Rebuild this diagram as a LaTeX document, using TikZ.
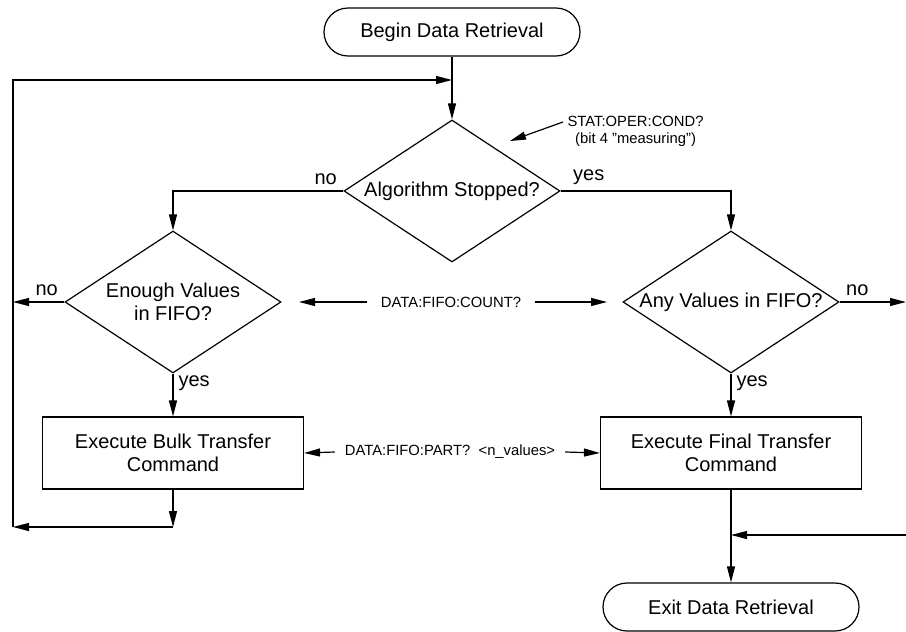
\documentclass[tikz,border=0pt]{standalone}
\usepackage{fontspec}
\setmainfont{Liberation Sans}
\usepackage{tikz}
\usetikzlibrary{arrows.meta,shapes.geometric}

\begin{document}
\begin{tikzpicture}[x=0.5pt, y=-0.5pt, line width=0.6pt,
    >={Triangle[length=8pt,width=4pt]},
    every node/.style={font=\fontsize{10}{11.5}\selectfont},
    terminal/.style={draw, rectangle, rounded corners=12pt, minimum width=128pt, minimum height=24pt},
    process/.style={draw, rectangle, minimum width=130.5pt, minimum height=36pt, align=center},
    decision/.style={draw, diamond, aspect=1.52, inner sep=0pt, minimum width=108pt, minimum height=71pt, align=center},
    cmd/.style={font=\fontsize{7.4}{8.5}\selectfont},
    answer/.style={inner sep=3pt}]
    \useasboundingbox (0,0) rectangle (906,632);

    \node[terminal] (begin) at (452,32) {Begin Data Retrieval};
    \node[decision] (stopped) at (452,191) {Algorithm Stopped?};
    \node[decision] (enough) at (173,302) {Enough Values\\in FIFO?};
    \node[decision] (any) at (731,302) {Any Values in FIFO?};
    \node[process] (bulk) at (173,453) {Execute Bulk Transfer\\Command};
    \node[process] (final) at (731,453) {Execute Final Transfer\\Command};
    \node[terminal] (exit) at (731,607) {Exit Data Retrieval};

    \node[cmd, inner xsep=6.5pt] (count) at (451,302) {DATA:FIFO:COUNT?};
    \node[cmd, inner xsep=4.75pt] (part) at (450,452) {DATA:FIFO:PART?\ \ <n\_values>};
    \node[cmd, anchor=west, align=center, inner sep=2pt] (cond) at (563,131) {STAT:OPER:COND?\\(bit 4 "measuring")};

    \coordinate (loopin) at (452,80);
    \coordinate (loopcorner) at (13,527);
    \coordinate (bulkjoin) at (173,527);
    \coordinate (noleft) at (13,302);
    \coordinate (noright) at (906,302);
    \coordinate (backin) at (906,535);
    \coordinate (finaljoin) at (731,535);
    \coordinate (countl) at (299,302);
    \coordinate (countr) at (607,302);
    \coordinate (condtip) at (510,141);

    \draw[->] (begin.south) -- (stopped.north);
    \draw[->] (loopcorner) |- (loopin);
    \draw[->] (stopped.west) node[answer, anchor=south east] (nostop) {no} -| (enough.north);
    \draw[->] (stopped.east) node[answer, anchor=south west, xshift=3pt] (yesstop) {yes} -| (any.north);
    \draw[->] (enough.west) node[answer, anchor=south east] (noenough) {no} -- (noleft);
    \draw[->] (any.east) node[answer, anchor=south west] (noany) {no} -- (noright);
    \draw[->] (enough.south) node[anchor=north west, inner sep=1pt, xshift=1.5pt] (yesenough) {yes} -- (bulk.north);
    \draw[->] (any.south) node[anchor=north west, inner sep=1pt, xshift=1.5pt] (yesany) {yes} -- (final.north);
    \draw[->] (count.west) -- (countl);
    \draw[->] (count.east) -- (countr);
    \draw[->] (part.west) -- (bulk.east);
    \draw[->] (part.east) -- (final.west);
    \draw[->] (bulk.south) -- (bulkjoin);
    \draw[->] (bulkjoin) -- (loopcorner);
    \draw[->] (final.south) -- (exit.north);
    \draw[->] (backin) -- (finaljoin);
    \draw[->] ([yshift=4.5pt]cond.west) -- (condtip);
\end{tikzpicture}
\end{document}
